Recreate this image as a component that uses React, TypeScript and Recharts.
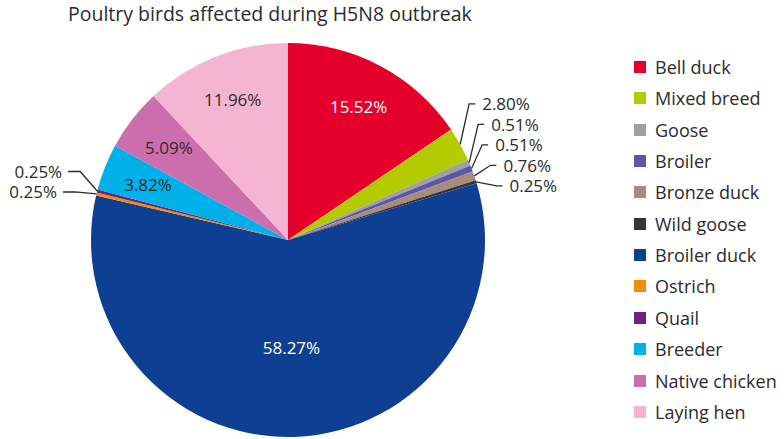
import React from 'react';
import { PieChart, Pie, Cell } from 'recharts';

const categories = ['Bell duck', 'Mixed breed', 'Goose', 'Broiler', 'Bronze duck', 'Wild goose', 'Broiler duck', 'Ostrich', 'Quail', 'Breeder', 'Native chicken', 'Laying hen'];
const percentages = [15.52, 2.80, 0.51, 0.51, 0.76, 0.25, 58.27, 0.25, 0.25, 3.82, 5.09, 11.96];
const colors = ['#e4002b', '#b4cb00', '#a0a0a2', '#5a58a6', '#a88b7c', '#353535', '#0f3f92', '#f28c00', '#6a237f', '#00b1e9', '#cc6ead', '#f5b5d2'];
const darkLabelCategories = ['Breeder', 'Native chicken', 'Laying hen'];

const TITLE = 'Poultry birds affected during H5N8 outbreak';
const FONT = '"Open Sans", "Noto Sans", sans-serif';
const TEXT_COLOR = '#2b2b2b';

const data = categories.map((name, i) => ({ name, value: percentages[i] }));
const total = percentages.reduce((a, b) => a + b, 0);
const OUTSIDE_LIMIT = 3;

const CX = 288;
const CY = 240;
const R = 197;

function midAngles(): number[] {
  let cum = 0;
  return percentages.map((v) => {
    const m = 90 - (360 * (cum + v / 2)) / total;
    cum += v;
    return m;
  });
}

function outsideLayout(cx: number, cy: number, r: number) {
  const mids = midAngles();
  const items = percentages
    .map((p, i) => {
      const rad = (mids[i] * Math.PI) / 180;
      const x = cx + r * Math.cos(rad);
      const y = cy - r * Math.sin(rad);
      return { i, p, x, y, side: x >= cx ? 1 : -1 };
    })
    .filter((d) => d.p < OUTSIDE_LIMIT);
  const result: Record<number, { ly: number; side: number; px: number; py: number }> = {};
  const gap = 20.5;
  [1, -1].forEach((side) => {
    const group = items.filter((d) => d.side === side).sort((a, b) => b.y - a.y);
    let prev = Infinity;
    group.forEach((d) => {
      const ly = Math.min(d.y + (side > 0 ? 4 : -2), prev - gap);
      prev = ly;
      result[d.i] = { ly, side, px: d.x, py: d.y };
    });
  });
  return result;
}

const renderLabel = (props: any) => {
  const { cx, cy, midAngle, outerRadius, index } = props;
  const p = percentages[index];
  const text = p.toFixed(2) + '%';
  if (p >= OUTSIDE_LIMIT) {
    const f = p > 50 ? 0.545 : 0.765;
    const rad = (midAngle * Math.PI) / 180;
    const x = cx + outerRadius * f * Math.cos(rad);
    const y = cy - outerRadius * f * Math.sin(rad);
    const fill = darkLabelCategories.includes(categories[index]) ? TEXT_COLOR : '#ffffff';
    return (
      <text key={'l' + index} x={x} y={y} fill={fill} fontSize={17} fontFamily={FONT} textAnchor="middle" dominantBaseline="central">
        {text}
      </text>
    );
  }
  const layout = outsideLayout(cx, cy, outerRadius);
  const L = layout[index];
  const dy = L.ly - cy;
  let tx: number;
  let ex: number;
  let ex2: number;
  if (L.side > 0) {
    const rt = outerRadius + 31;
    tx = Math.max(L.px + 22, cx + Math.sqrt(Math.max(0, rt * rt - dy * dy)));
    ex = tx - 13;
    ex2 = tx - 7;
  } else {
    const rt = outerRadius + 39;
    tx = cx - Math.sqrt(Math.max(0, rt * rt - dy * dy));
    ex = tx + 18;
    ex2 = tx + 6;
  }
  return (
    <g key={'l' + index}>
      <polyline points={`${L.px},${L.py} ${ex},${L.ly} ${ex2},${L.ly}`} fill="none" stroke={TEXT_COLOR} strokeWidth={1.3} />
      <text x={tx} y={L.ly} fill={TEXT_COLOR} fontSize={17} fontFamily={FONT} textAnchor={L.side > 0 ? 'start' : 'end'} dominantBaseline="central">
        {text}
      </text>
    </g>
  );
};

function LegendBox() {
  return (
    <div style={{ position: 'absolute', left: 634, top: 51.3, fontFamily: FONT, fontSize: 18, color: TEXT_COLOR }}>
      {categories.map((name, i) => (
        <div key={name} style={{ height: 31.36, display: 'flex', alignItems: 'center', whiteSpace: 'nowrap' }}>
          <span style={{ display: 'inline-block', width: 12, height: 12, background: colors[i], marginRight: 9 }} />
          <span>{name}</span>
        </div>
      ))}
    </div>
  );
}

export default function App() {
  return (
    <div style={{ position: 'absolute', left: 0, top: 0, width: 784, height: 439, background: '#ffffff', overflow: 'hidden' }}>
      <div style={{ position: 'absolute', left: 68, top: 0, fontFamily: FONT, fontSize: 19.5, color: TEXT_COLOR, whiteSpace: 'nowrap' }}>
        {TITLE}
      </div>
      <div style={{ position: 'absolute', left: 0, top: 0 }}>
        <PieChart width={784} height={439} margin={{ top: 0, right: 0, bottom: 0, left: 0 }}>
          <Pie
            data={data}
            dataKey="value"
            nameKey="name"
            cx={CX}
            cy={CY}
            outerRadius={R}
            startAngle={90}
            endAngle={-270}
            stroke="none"
            label={renderLabel}
            labelLine={false}
            isAnimationActive={false}
          >
            {data.map((d, i) => (
              <Cell key={d.name} fill={colors[i]} />
            ))}
          </Pie>
        </PieChart>
      </div>
      <LegendBox />
    </div>
  );
}
